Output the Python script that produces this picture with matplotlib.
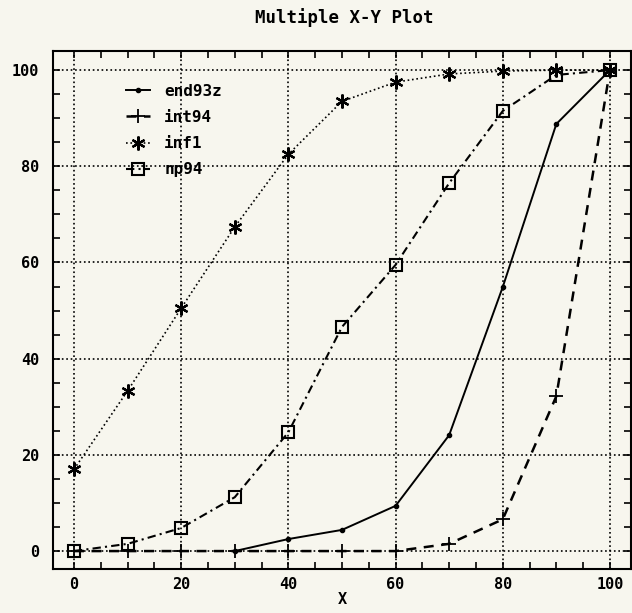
import numpy as np
import matplotlib
matplotlib.use('Agg')
import matplotlib.pyplot as plt
from matplotlib.ticker import MultipleLocator

# Data
x_end93z = [30, 40, 50, 60, 70, 80, 90, 100]
y_end93z = [0, 2.5, 4.4, 9.4, 24.1, 54.9, 88.8, 100]

x_all = [0, 10, 20, 30, 40, 50, 60, 70, 80, 90, 100]
y_int94 = [0, 0, 0, 0, 0, 0, 0, 1.5, 6.6, 32.2, 100]
y_inf1 = [17, 33.3, 50.5, 67.4, 82.5, 93.5, 97.5, 99.2, 99.8, 100, 100]
y_np94 = [0, 1.5, 4.8, 11.2, 24.7, 46.6, 59.5, 76.5, 91.5, 99, 100]

mono = 'DejaVu Sans Mono'
bg = '#f7f6ee'

fig = plt.figure(figsize=(6.32, 6.13), dpi=100, facecolor=bg)
ax = fig.add_axes([0.084, 0.072, 0.915, 0.845], facecolor=bg)

asterisk = (6, 2, 0)
ax.plot(x_end93z, y_end93z, '-', color='k', lw=1.4, marker='o', ms=3, label='end93z')
ax.plot(x_all, y_int94, '--', color='k', lw=1.8, dashes=(4, 3), marker='+', ms=10, mew=1.3, label='int94')
ax.plot(x_all, y_inf1, ':', color='k', lw=1.2, marker=asterisk, ms=10, mew=1.6, label='inf1')
ax.plot(x_all, y_np94, '-.', color='k', lw=1.5, dashes=(4, 2, 1, 2), marker='s', ms=8,
        mfc='none', mew=1.5, label='np94')

ax.set_xlim(-3.9, 104)
ax.set_ylim(-3.7, 104)
ax.xaxis.set_major_locator(MultipleLocator(20))
ax.yaxis.set_major_locator(MultipleLocator(20))
ax.xaxis.set_minor_locator(MultipleLocator(5))
ax.yaxis.set_minor_locator(MultipleLocator(5))
ax.tick_params(which='both', direction='in', top=True, right=True, length=5, width=1.2, color='k')
ax.tick_params(axis='x', which='major', labelsize=11, pad=6)
ax.tick_params(axis='y', which='major', labelsize=11, pad=10)
for lab in ax.get_xticklabels() + ax.get_yticklabels():
    lab.set_fontfamily(mono)
    lab.set_fontweight('bold')

ax.grid(True, which='major', linestyle=':', color='k', lw=1.2)
for s in ax.spines.values():
    s.set_linewidth(1.5)

fig.text(344 / 632, 1 - 18 / 613, 'Multiple X-Y Plot', family=mono, weight='bold',
         fontsize=12.5, ha='center', va='center')
ax.set_xlabel('X', fontfamily=mono, fontweight='bold', fontsize=11, labelpad=0)

leg = ax.legend(loc='upper left', bbox_to_anchor=(0.101, 0.964), frameon=False,
                prop={'family': mono, 'weight': 'bold', 'size': 11.5},
                handlelength=1.5, labelspacing=0.7, handletextpad=0.9)

fig.savefig('out.png', dpi=100, facecolor=bg)
